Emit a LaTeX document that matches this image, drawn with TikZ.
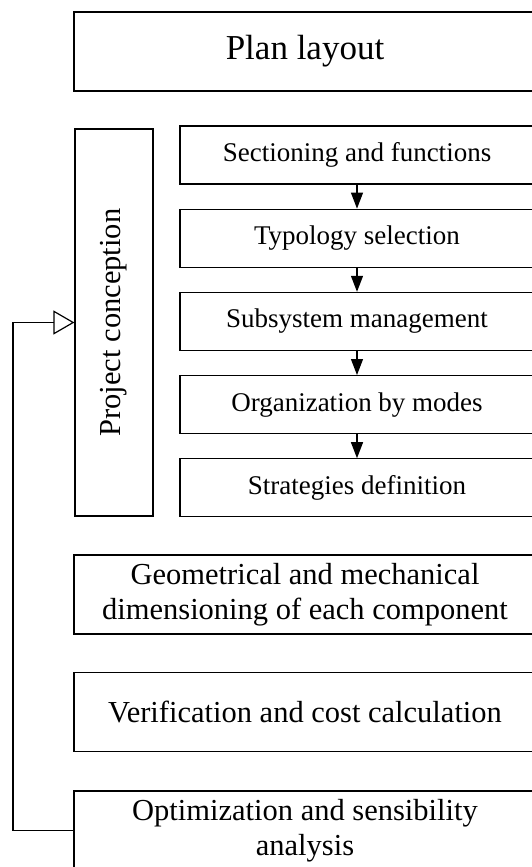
\documentclass[tikz,border=0pt]{standalone}
\usepackage{fontspec}
\setmainfont{Liberation Serif}
\usetikzlibrary{positioning,arrows.meta}

\tikzset{
  bigbox/.style={draw, line width=1.2pt, minimum width=462pt, minimum height=79pt,
    inner sep=0pt, align=center, font=\fontsize{30.5}{35}\selectfont},
  stepbox/.style={draw, line width=1.2pt, minimum width=354pt, minimum height=58pt,
    inner sep=0pt, align=center, font=\fontsize{27}{32}\selectfont},
  sidebox/.style={draw, line width=1.2pt, minimum width=78pt, minimum height=387pt,
    inner sep=0pt, font=\fontsize{30.5}{36}\selectfont},
  down/.style={line width=1.2pt, -{Triangle[length=16pt,width=12pt]}},
  back/.style={line width=1.2pt, -{Triangle[open,length=21pt,width=24pt]}}
}

\begin{document}
\begin{tikzpicture}[x=1pt,y=-1pt]
  \useasboundingbox (0,0) rectangle (531,867);

  \node[bigbox, font=\fontsize{35}{40}\selectfont] (plan) at (305,51.5) {Plan layout};

  % project conception block
  \node[sidebox] (conc) at (114,322.5) {\rotatebox{90}{Project conception}};
  \node[stepbox] (sec) at (357,155) {Sectioning and functions};
  \node[stepbox, below=24pt of sec] (typ) {Typology selection};
  \node[stepbox, below=24pt of typ] (sub) {Subsystem management};
  \node[stepbox, below=24pt of sub] (org) {Organization by modes};
  \node[stepbox, below=24pt of org] (str) {Strategies definition};
  \foreach \a/\b in {sec/typ, typ/sub, sub/org, org/str}
    \draw[down] (\a) -- (\b);

  \node[bigbox] (geo) at (305,594.5) {Geometrical and mechanical\\dimensioning of each component};
  \node[bigbox] (ver) at (305,712) {Verification and cost calculation};
  \node[bigbox] (opt) at (305,830.5) {Optimization and sensibility\\analysis};

  % feedback loop
  \coordinate (corner) at (13,830.5);
  \draw[back] (opt.west) -- (corner) |- (conc.west);
\end{tikzpicture}
\end{document}
